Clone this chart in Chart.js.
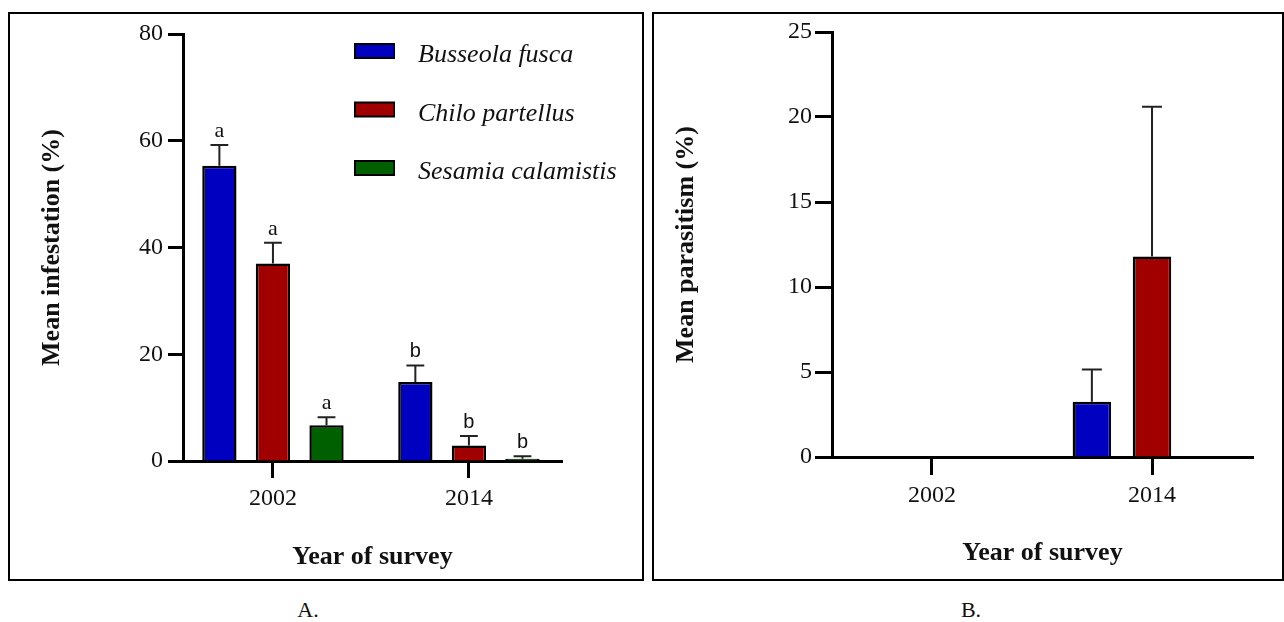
<!DOCTYPE html>
<html>
<head>
<meta charset="utf-8">
<script src="https://cdn.jsdelivr.net/npm/chart.js@4.4.0/dist/chart.umd.min.js"></script>
<style>
body { margin:0; width:1284px; height:622px; overflow:hidden; background:#fff; font-family:"Liberation Serif", serif; }
.panel { position:absolute; top:12px; height:565px; border:2px solid #000; }
#pa { left:8px; width:632px; }
#pb { left:652px; width:628px; }
.cap { position:absolute; top:599px; font-size:22px; line-height:22px; color:#111; transform:translateX(-50%); }
canvas { display:block; }
</style>
</head>
<body>
<div class="panel" id="pa"><canvas id="ca"></canvas></div>
<div class="panel" id="pb"><canvas id="cb"></canvas></div>
<div class="cap" style="left:308px">A.</div>
<div class="cap" style="left:971px">B.</div>
<script>
// data
var years = ['2002', '2014'];
var species = ['Busseola fusca', 'Chilo partellus', 'Sesamia calamistis'];
var colors = ['#0000c0', '#a00000', '#006000'];

// A. mean infestation (%)
var infBusseola = [55.3, 14.8];
var infChilo = [37.0, 2.9];
var infSesamia = [6.7, 0.4];
var infErrBusseola = [3.9, 3.1];
var infErrChilo = [3.9, 1.8];
var infErrSesamia = [1.5, 0.5];
var lettersBusseola = ['a', 'b'];
var lettersChilo = ['a', 'b'];
var lettersSesamia = ['a', 'b'];
var infTicks = [0, 20, 40, 60, 80];

// B. mean parasitism (%)
var parBusseola = [0, 3.25];
var parChilo = [0, 11.8];
var parSesamia = [0, 0];
var parErrBusseola = [0, 1.9];
var parErrChilo = [0, 8.8];
var parErrSesamia = [0, 0];
var parTicks = [0, 5, 10, 15, 20, 25];

var SERIF = 'Liberation Serif';
var letterFont = { a: '22px "Liberation Serif"', b: '20px "Liberation Sans"' };

Chart.defaults.font.family = SERIF;
Chart.defaults.color = '#111';

function makeSet(i, vals, errs, letters) {
    return {
        label: species[i],
        data: vals.map(function(v, k){ return {x: k, y: v}; }),
        errors: errs,
        letters: letters || [],
        backgroundColor: colors[i],
        borderColor: '#000',
        borderWidth: 2.5,
        categoryPercentage: 0.82,
        barPercentage: 0.64
    };
}

// error bars (upper only) + significance letters
var errorBars = {
    id: 'errorBars',
    afterDatasetsDraw: function(chart){
        var ctx = chart.ctx, ys = chart.scales.y;
        ctx.save();
        chart.data.datasets.forEach(function(ds, d){
            var meta = chart.getDatasetMeta(d);
            meta.data.forEach(function(bar, k){
                var e = ds.errors[k];
                if(!e) return;
                var top = ys.getPixelForValue(ds.data[k].y + e);
                var half = bar.width * 0.26;
                ctx.strokeStyle = '#222';
                ctx.lineWidth = 2;
                ctx.beginPath();
                ctx.moveTo(bar.x, bar.y);
                ctx.lineTo(bar.x, top);
                ctx.moveTo(bar.x - half, top);
                ctx.lineTo(bar.x + half, top);
                ctx.stroke();
                var t = ds.letters[k];
                if(t){
                    ctx.fillStyle = '#111';
                    ctx.font = letterFont[t];
                    ctx.textAlign = 'center';
                    ctx.textBaseline = 'alphabetic';
                    ctx.fillText(t, bar.x, top - 8);
                }
            });
        });
        ctx.restore();
    }
};

// legend inside the plot, top right
var boxLegend = {
    id: 'boxLegend',
    afterDraw: function(chart){
        if(!chart.options.plugins.boxLegend.show) return;
        var a = chart.chartArea, ctx = chart.ctx;
        ctx.save();
        chart.data.datasets.forEach(function(ds, i){
            var x = a.left + 172, yc = a.top + 17 + i * 58.5;
            ctx.fillStyle = ds.backgroundColor;
            ctx.fillRect(x, yc - 7, 39, 14);
            ctx.strokeStyle = '#000';
            ctx.lineWidth = 2;
            ctx.strokeRect(x, yc - 7, 39, 14);
            ctx.fillStyle = '#111';
            ctx.font = 'italic 26px "Liberation Serif"';
            ctx.textAlign = 'left';
            ctx.textBaseline = 'alphabetic';
            ctx.fillText(ds.label, x + 63, yc + 11);
        });
        ctx.restore();
    }
};

function buildOptions(o){
    return {
        responsive: true,
        maintainAspectRatio: false,
        animation: false,
        layout: { padding: { top: o.top, right: o.right, left: 0, bottom: 0 } },
        plugins: {
            legend: { display: false },
            tooltip: { enabled: false },
            boxLegend: { show: o.legend }
        },
        scales: {
            x: {
                type: 'linear',
                min: o.xMin, max: o.xMax,
                offset: false,
                bounds: 'data',
                afterBuildTicks: function(axis){
                    axis.ticks = years.map(function(y, k){ return {value: k}; });
                },
                afterFit: function(axis){ axis.height = o.xHeight; },
                ticks: {
                    autoSkip: false, maxRotation: 0, padding: 6, color: '#111',
                    font: { family: SERIF, size: 24 },
                    callback: function(v){ return years[v]; }
                },
                grid: { display: true, drawOnChartArea: false, offset: false, tickLength: o.xTickLen, tickWidth: 3, tickColor: '#000', color: '#000' },
                border: { display: true, width: 3, color: '#000' },
                title: {
                    display: true, text: 'Year of survey', color: '#111',
                    font: { family: SERIF, size: 26, weight: 'bold' },
                    padding: { top: 0, bottom: o.xTitlePad }
                }
            },
            y: {
                min: o.yTicks[0],
                max: o.yTicks[o.yTicks.length - 1],
                afterFit: function(axis){ axis.width = o.yWidth; },
                ticks: {
                    stepSize: o.yTicks[1] - o.yTicks[0], padding: o.yTickPad, color: '#111',
                    font: { family: SERIF, size: 24 }
                },
                grid: { display: true, drawOnChartArea: false, tickLength: o.yTickLen, tickWidth: 3, tickColor: '#000', color: '#000' },
                border: { display: true, width: 3, color: '#000' },
                title: {
                    display: true, text: o.yTitle, color: '#111',
                    font: { family: SERIF, size: 26, weight: 'bold' },
                    padding: { top: o.yTitlePad, bottom: 0 }
                }
            }
        }
    };
}

new Chart(document.getElementById('ca'), {
    type: 'bar',
    data: {
        datasets: [
            makeSet(0, infBusseola, infErrBusseola, lettersBusseola),
            makeSet(1, infChilo, infErrChilo, lettersChilo),
            makeSet(2, infSesamia, infErrSesamia, lettersSesamia)
        ]
    },
    options: buildOptions({
        top: 20, right: 80, xHeight: 118, yWidth: 173,
        xMin: -0.459, xMax: 1.475,
        xTickLen: 17, xTitlePad: 6,
        yTicks: infTicks, yTickLen: 15, yTickPad: 5,
        yTitle: 'Mean infestation (%)', yTitlePad: 27, legend: true
    }),
    plugins: [errorBars, boxLegend]
});

new Chart(document.getElementById('cb'), {
    type: 'bar',
    data: {
        datasets: [
            makeSet(0, parBusseola, parErrBusseola),
            makeSet(1, parChilo, parErrChilo),
            makeSet(2, parSesamia, parErrSesamia)
        ]
    },
    options: buildOptions({
        top: 18, right: 29, xHeight: 122, yWidth: 178,
        xMin: -0.4545, xMax: 1.459,
        xTickLen: 18, xTitlePad: 10,
        yTicks: parTicks, yTickLen: 17, yTickPad: 3,
        yTitle: 'Mean parasitism (%)', yTitlePad: 17, legend: false
    }),
    plugins: [errorBars, boxLegend]
});
</script>
</body>
</html>
